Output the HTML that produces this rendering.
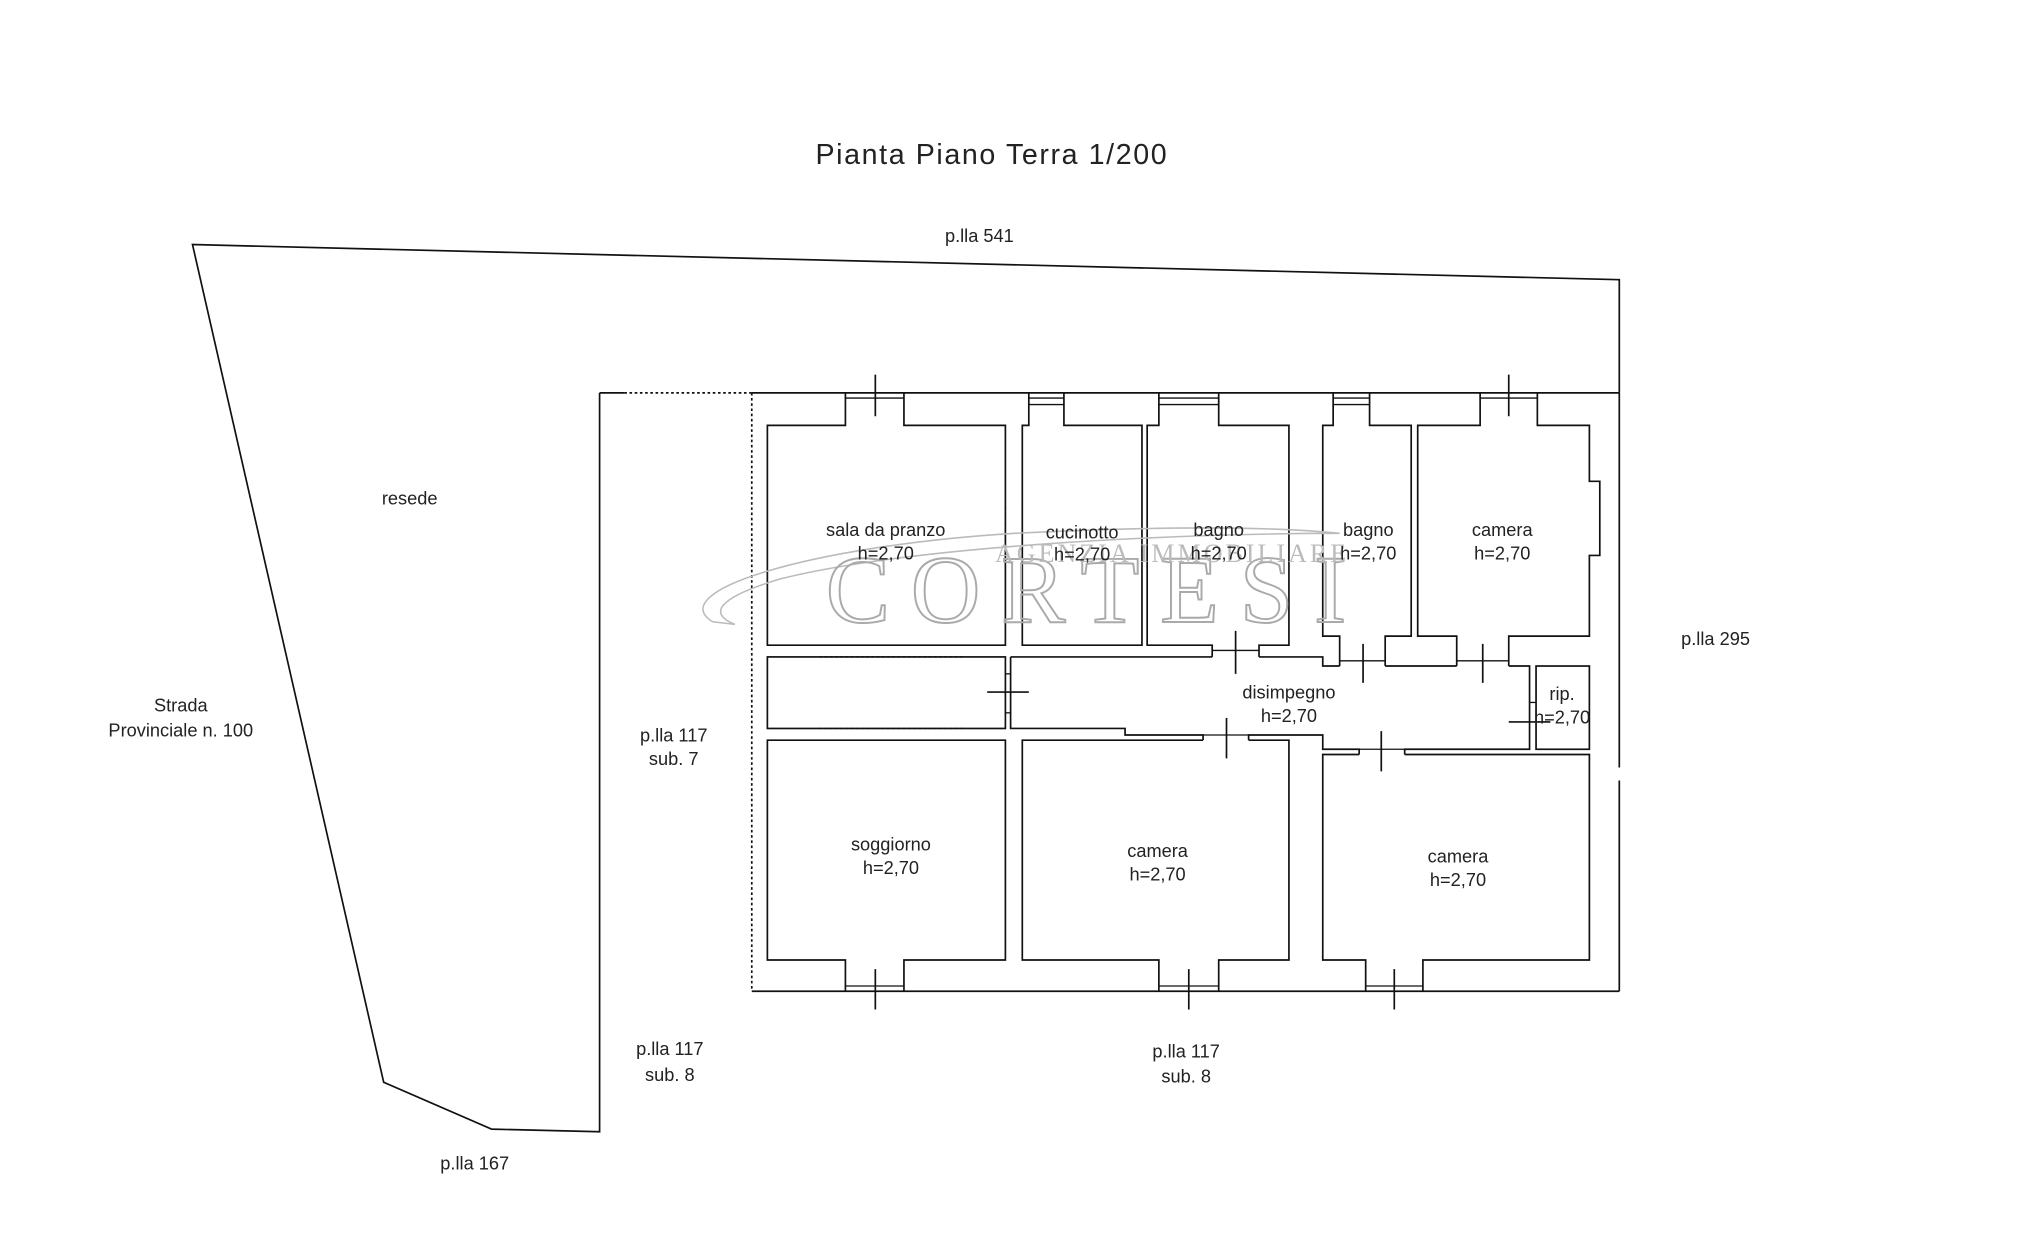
<!DOCTYPE html>
<html><head><meta charset="utf-8"><style>
html,body{margin:0;padding:0;background:#fff}
svg{display:block}
text{font-family:"Liberation Sans",sans-serif;fill:#222}
</style></head><body>
<svg width="2029" height="1254" viewBox="0 0 1560 964" preserveAspectRatio="none" xmlns="http://www.w3.org/2000/svg">
<g fill="none" stroke="#111" stroke-width="1.3">
<polyline points="461,302 461,870 378,868 295,832 148,188 1245,215 1245,302"/>
<line x1="461" y1="302" x2="480" y2="302"/>
<line x1="480" y1="302" x2="578" y2="302" stroke-dasharray="2,2"/>
<line x1="578" y1="302" x2="1245" y2="302"/>
<line x1="578" y1="762" x2="1245" y2="762"/>
<line x1="578" y1="302" x2="578" y2="762" stroke-dasharray="2,2"/>
<line x1="1245" y1="302" x2="1245" y2="590"/>
<line x1="1245" y1="600" x2="1245" y2="762"/>
<path d="M650,302 V327 H590 V496 H773 V327 H695 V302"/>
<path d="M791,302 V327 H786 V496 H878 V327 H818 V302"/>
<path d="M891,302 V327 H882 V496 H932 V505 M968,505 V496 H991 V327 H937 V302"/>
<path d="M1025,302 V327 H1017 V489 H1030 V512 M1065,512 V489 H1085 V327 H1053 V302"/>
<path d="M1138,302 V327 H1090 V489 H1120 V512 M1160,512 V489 H1222 V427 H1230 V370 H1222 V327 H1182 V302"/>
<rect x="590" y="505" width="183" height="55"/>
<path d="M777,505 H932 M968,505 H1017 V512 H1030 M1065,512 H1120 M1160,512 H1176 V576 H1080 V580 M1045,580 V576 H1017 V565 H960 V569 M925,569 V565 H865 V560 H777 V505"/>
<rect x="1181" y="512" width="41" height="64"/>
<path d="M650,762 V738 H590 V569 H773 V738 H695 V762"/>
<path d="M925,569 H786 V738 H891 V762 M937,762 V738 H991 V569 H960"/>
<path d="M1045,580 H1017 V738 H1050 V762 M1094,762 V738 H1222 V580 H1080"/>
<g stroke-width="1">
<line x1="650" y1="306" x2="695" y2="306"/><line x1="791" y1="306" x2="818" y2="306"/><line x1="891" y1="306" x2="937" y2="306"/><line x1="1025" y1="306" x2="1053" y2="306"/><line x1="1138" y1="306" x2="1182" y2="306"/>
<line x1="791" y1="311" x2="818" y2="311"/><line x1="891" y1="311" x2="937" y2="311"/><line x1="1025" y1="311" x2="1053" y2="311"/>
<line x1="650" y1="758" x2="695" y2="758"/><line x1="891" y1="758" x2="937" y2="758"/><line x1="1050" y1="758" x2="1094" y2="758"/>
<line x1="932" y1="500" x2="968" y2="500"/><line x1="1030" y1="508" x2="1065" y2="508"/><line x1="1120" y1="508" x2="1160" y2="508"/>
<line x1="925" y1="565" x2="960" y2="565"/><line x1="1045" y1="576" x2="1080" y2="576"/>
<line x1="773" y1="518" x2="777" y2="518"/><line x1="773" y1="548" x2="777" y2="548"/>
<line x1="1176" y1="540" x2="1181" y2="540"/>
</g>
<g stroke-dasharray="2,2" stroke-width="1">
<line x1="630" y1="496" x2="742" y2="496"/><line x1="630" y1="505" x2="742" y2="505"/>
<line x1="630" y1="560" x2="742" y2="560"/><line x1="630" y1="569" x2="742" y2="569"/>
<line x1="773" y1="390" x2="773" y2="433"/><line x1="786" y1="390" x2="786" y2="433"/>
</g>
<path d="M673,288V320M1160,288V320M673,745V776M914,745V776M1072,745V776M950,485V518M1048,495V525M1140,495V525M943,552V583M1062,562V593M759,532H791M1160,555H1192"/>
</g>
<g fill="none" stroke="#bbb" stroke-width="1.2">
<path d="M548,478 C510,455 620,420 780,410 C900,404 980,405 1030,410 C900,410 700,420 600,445 C550,460 545,472 565,480 Z"/>
<text x="835" y="478" font-size="74" text-anchor="middle" textLength="400" style="fill:none;stroke:#aaa;stroke-width:1.5;font-family:'Liberation Serif',serif">CORTESI</text>
</g>
<text x="900" y="432" font-size="20" text-anchor="middle" textLength="270" style="fill:#bbb;font-family:'Liberation Serif',serif">AGENZIA IMMOBILIARE</text>
<text x="627" y="126" font-size="22" textLength="270">Pianta Piano Terra 1/200</text>
<g font-size="14" text-anchor="middle">
<text x="753" y="186">p.lla 541</text>
<text x="315" y="388">resede</text>
<text x="139" y="547">Strada</text><text x="139" y="566">Provinciale n. 100</text>
<text x="518" y="570">p.lla 117</text><text x="518" y="588">sub. 7</text>
<text x="515" y="811">p.lla 117</text><text x="515" y="831">sub. 8</text>
<text x="912" y="813">p.lla 117</text><text x="912" y="832">sub. 8</text>
<text x="365" y="899">p.lla 167</text>
<text x="1319" y="496">p.lla 295</text>
<text x="681" y="412">sala da pranzo</text><text x="681" y="430">h=2,70</text>
<text x="832" y="414">cucinotto</text><text x="832" y="431">h=2,70</text>
<text x="937" y="412">bagno</text><text x="937" y="430">h=2,70</text>
<text x="1052" y="412">bagno</text><text x="1052" y="430">h=2,70</text>
<text x="1155" y="412">camera</text><text x="1155" y="430">h=2,70</text>
<text x="991" y="537">disimpegno</text><text x="991" y="555">h=2,70</text>
<text x="1201" y="538">rip.</text><text x="1201" y="556">h=2,70</text>
<text x="685" y="654">soggiorno</text><text x="685" y="672">h=2,70</text>
<text x="890" y="659">camera</text><text x="890" y="677">h=2,70</text>
<text x="1121" y="663">camera</text><text x="1121" y="681">h=2,70</text>
</g>
</svg>
</body></html>
